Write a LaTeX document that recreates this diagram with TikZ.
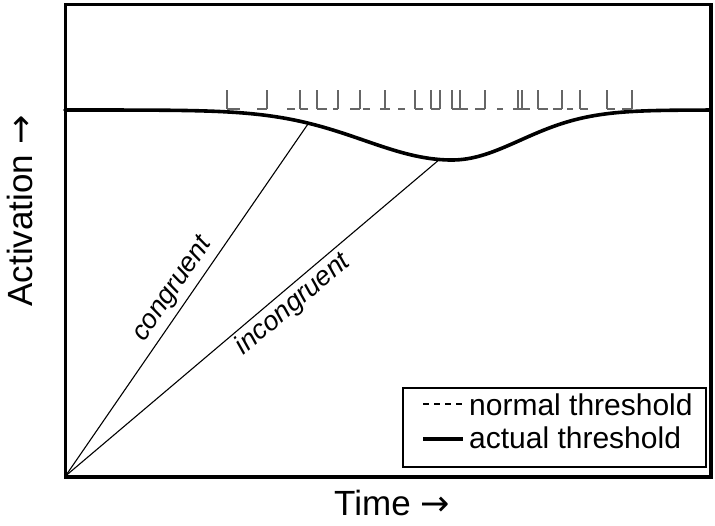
\documentclass[tikz,border=0pt]{standalone}
\usepackage{fontspec}
\setmainfont{Liberation Sans}
\newfontfamily\arrowfont{DejaVu Sans}
\begin{document}
\begin{tikzpicture}[x=1pt,y=-1pt,
  frame/.style={line width=3.8pt},
  actual/.style={line width=3.6pt,line cap=round},
  ramp/.style={line width=1.1pt},
  tick/.style={line width=1.5pt,draw=black!60},
  axislabel/.style={font=\fontsize{35}{40}\selectfont,inner sep=0pt},
  ramplabel/.style={font=\fontsize{27}{30}\selectfont\itshape},
  legendtext/.style={font=\fontsize{30}{32}\selectfont,anchor=west,inner sep=0pt}]
\useasboundingbox (0,0) rectangle (715,525);
% frame
\draw[frame] (65.5,4.5) rectangle (711,477);
% actual threshold (flat + dip)
\draw[actual] plot[domain=65:452,samples=90] (\x,{110+50*exp(-0.5*((\x-452)/88)^2)})
  -- plot[domain=452:711,samples=70] (\x,{110+50*exp(-0.5*((\x-452)/68)^2)});
% normal threshold spikes (ticks)
\foreach \t in {227,267,300,317,338,360,385,415,431,440,452,460,485,518,522,538,562,580,607,632}
  \draw[tick] (\t,90) -- (\t,109);
\foreach \a/\b in {227/240,257/267,287/295,300/308,317/327,333/338,350/360,363/370,380/390,398/405,415/423,431/440,452/468,475/485,497/503,513/530,538/548,553/562,567/573,580/588,607/615,622/632}
  \draw[tick] (\a,109) -- (\b,109);
% ramps
\coordinate (O) at (65.5,476);
\coordinate (C) at (309,122.5);
\coordinate (I) at (440,159);
\draw[ramp] (O) -- (C) node[ramplabel,pos=0.5,sloped,above,inner sep=5pt] {congruent};
\draw[ramp] (O) -- (I) node[ramplabel,pos=0.58,sloped,below,inner sep=3pt] {incongruent};
% axis labels
\node[axislabel,rotate=90] (ylab) at (20,211) {Activation {\arrowfont →}};
\node[axislabel] (xlab) at (392,503) {Time {\arrowfont →}};
% legend
\node[draw,line width=1.8pt,minimum width=303pt,minimum height=79pt,inner sep=0pt] (legend) at (554.5,427.5) {};
\coordinate (d1) at (423,404);
\coordinate (d2) at (463,404);
\coordinate (s1) at (423,439);
\coordinate (s2) at (463,439);
\draw[line width=1.3pt,dash pattern=on 6pt off 5pt] (d1) -- (d2);
\draw[line width=3.6pt] (s1) -- (s2);
\node[legendtext] (ln) at (469,405) {normal threshold};
\node[legendtext] (la) at (469,438) {actual threshold};
\end{tikzpicture}
\end{document}
